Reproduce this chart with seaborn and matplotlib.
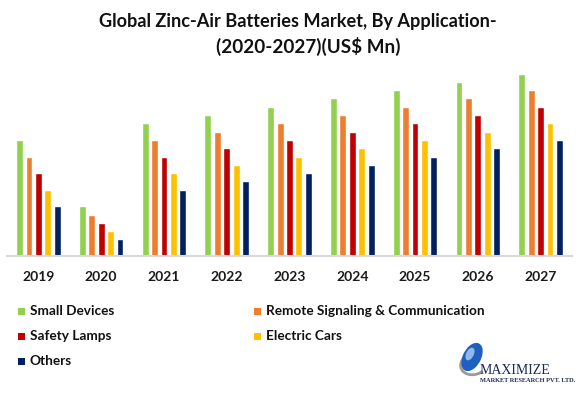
import pandas as pd
import seaborn as sns
import matplotlib.pyplot as plt
from matplotlib.patches import Rectangle, Ellipse, Arc

years = ["2019", "2020", "2021", "2022", "2023", "2024", "2025", "2026", "2027"]
applications = [
    "Small Devices",
    "Remote Signaling & Communication",
    "Safety Lamps",
    "Electric Cars",
    "Others",
]
small_devices = [14, 6, 16, 17, 18, 19, 20, 21, 22]
remote_signaling = [12, 5, 14, 15, 16, 17, 18, 19, 20]
safety_lamps = [10, 4, 12, 13, 14, 15, 16, 17, 18]
electric_cars = [8, 3, 10, 11, 12, 13, 14, 15, 16]
others = [6, 2, 8, 9, 10, 11, 12, 13, 14]

colors = ["#92D050", "#ED7D31", "#C00000", "#FFC000", "#002060"]

series = [small_devices, remote_signaling, safety_lamps, electric_cars, others]
rows = []
for app, vals in zip(applications, series):
    for yr, v in zip(years, vals):
        rows.append({"year": yr, "application": app, "value": v})
df = pd.DataFrame(rows)

sns.set_style("white")
plt.rcParams["font.family"] = ["Lato", "DejaVu Sans"]

fig = plt.figure(figsize=(5.79, 3.96), dpi=100)
ax = fig.add_axes([7 / 579, 140 / 396, 565 / 579, 194 / 396])

sns.barplot(
    data=df,
    x="year",
    y="value",
    hue="application",
    hue_order=applications,
    order=years,
    palette=colors,
    saturation=1,
    width=0.75,
    gap=0.27,
    legend=False,
    ax=ax,
)

ax.set_xlim(-0.5, 8.5)
ax.set_ylim(0, 23.4)
ax.set_xlabel("")
ax.set_ylabel("")
ax.set_yticks([])
for s in ["top", "left", "right"]:
    ax.spines[s].set_visible(False)
ax.spines["bottom"].set_color("#d9d9d9")
ax.spines["bottom"].set_linewidth(1.5)
ax.tick_params(axis="x", length=0, pad=11)
for lbl in ax.get_xticklabels():
    lbl.set_fontweight("bold")
    lbl.set_fontsize(10)
    lbl.set_color("#1a1a1a")

fig.text(
    298 / 579, 1 - 22 / 396,
    "Global Zinc-Air Batteries Market, By Application-",
    ha="center", va="center", fontsize=13.1, fontweight="bold", color="#111111",
)
fig.text(
    308 / 579, 1 - 46 / 396,
    "(2020-2027)(US$ Mn)",
    ha="center", va="center", fontsize=13.6, fontweight="bold", color="#111111",
)

# legend, laid out row by row in two columns
for i, (app, c) in enumerate(zip(applications, colors)):
    x = [18, 254][i % 2]
    y = 311 + 25 * (i // 2)
    fig.add_artist(Rectangle((x / 579, 1 - (y + 3.5) / 396), 7 / 579, 7 / 396,
                             transform=fig.transFigure, color=c, lw=0))
    fig.text((x + 12) / 579, 1 - y / 396, app, ha="left", va="center",
             fontsize=9.8, fontweight="bold", color="#111111")

# logo
fig.add_artist(Arc((474 / 579, 1 - 364 / 396), 26 / 579, 22 / 396, angle=-20,
                   theta1=150, theta2=330, transform=fig.transFigure,
                   color="#9a9a9a", lw=2))
fig.add_artist(Ellipse((472 / 579, 1 - 357 / 396), 19 / 579, 29 / 396, angle=-15,
                       transform=fig.transFigure, color="#1f5fc0", lw=0))
fig.add_artist(Ellipse((470 / 579, 1 - 354 / 396), 8 / 579, 13 / 396, angle=-15,
                       transform=fig.transFigure, color="#8fb8ec", lw=0))
fig.text(480 / 579, 1 - 371 / 396, "MAXIMIZE", ha="left", va="center",
         fontsize=10, family="Liberation Serif", color="#1b2a55")
fig.text(480 / 579, 1 - 381 / 396, "MARKET RESEARCH PVT. LTD.", ha="left", va="center",
         fontsize=4.6, fontweight="bold", family="Liberation Serif", color="#1b2a55")

fig.savefig("out.png", dpi=100)
